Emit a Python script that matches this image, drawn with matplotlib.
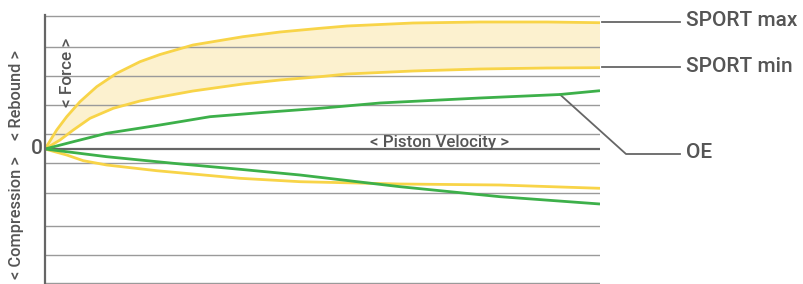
import matplotlib
matplotlib.use('Agg')
import matplotlib.pyplot as plt

plt.rcParams['font.family'] = ['Roboto', 'DejaVu Sans']

# piston velocity (arbitrary units) and force curves
max_x = [0, 11.7, 21.7, 35, 51.7, 71.7, 95, 115, 148, 198, 235, 275, 302, 368, 435, 502, 555]
max_y = [0, 19, 32.3, 47.3, 62.3, 75.7, 87.3, 94.5, 104, 112.3, 117, 120.7, 123, 126, 127, 127, 126.3]
min_x = [0, 15, 28.3, 45, 68.3, 95, 115, 148, 198, 235, 275, 302, 368, 435, 502, 555]
min_y = [0, 9, 19, 30.7, 40.7, 48, 52, 58, 65, 69, 72.3, 75, 78, 80, 81, 81.3]

oe_reb_x = [0, 28.3, 61.7, 115, 135, 165, 215, 275, 335, 435, 515, 555]
oe_reb_y = [0, 7.3, 15.7, 24, 27.3, 32.3, 36.3, 40.7, 46, 51, 54.5, 58.3]
oe_comp_x = [0, 61.7, 128.3, 195, 255, 355, 455, 555]
oe_comp_y = [0, -7.7, -14.3, -20.3, -26, -37.7, -47.7, -55]
sp_comp_x = [0, 21.7, 38.3, 61.7, 111.7, 195, 255, 355, 455, 555]
sp_comp_y = [0, -6, -11.7, -16, -21.7, -29.3, -32.7, -35, -36, -39.3]

grid_y = [133.3, 102.3, 73, 43.7, 14.7, -14.3, -43.7, -76.7, -106, -134.3]

yellow = '#F8D448'
fill = '#FCF1CF'
green = '#3DB04A'
dark = '#555555'

fig = plt.figure(figsize=(8.04, 2.84), dpi=100)
ax = fig.add_axes([45 / 804, 0, 555 / 804, 269 / 284])
ax.set_xlim(0, 555)
ax.set_ylim(-135, 134)
ax.axis('off')

for g in grid_y:
    ax.axhline(g, color='#9a9a9a', lw=1.0, zorder=1)
ax.axhline(0, color='#666666', lw=1.6, zorder=1)
ax.plot([0, 0], [-135, 134], color='#666666', lw=1.6, clip_on=False, zorder=5)

# shaded band between SPORT max and min
ax.fill(max_x + min_x[::-1], max_y + min_y[::-1], color=fill, lw=0, zorder=0.5)

kw = dict(lw=2, solid_joinstyle='round', solid_capstyle='butt')
ax.plot(max_x, max_y, color=yellow, zorder=3, **kw)
ax.plot(min_x, min_y, color=yellow, zorder=3, **kw)
ax.plot(sp_comp_x, sp_comp_y, color=yellow, zorder=3, **kw)
ax.plot(oe_reb_x, oe_reb_y, color=green, zorder=4, **kw)
ax.plot(oe_comp_x, oe_comp_y, color=green, zorder=4, **kw)

# callouts on the right
lab_kw = dict(fontsize=15, color=dark, va='center', ha='left', fontweight='medium')
ax.plot([557, 635], [127, 127], color='#666666', lw=1.3, clip_on=False)
ax.text(641, 128, 'SPORT max', **lab_kw)
ax.plot([557, 635], [82, 82], color='#666666', lw=1.3, clip_on=False)
ax.text(641, 83, 'SPORT min', **lab_kw)
ax.plot([515, 581, 635], [54.5, -5, -5], color='#666666', lw=1.3, clip_on=False)
ax.text(641, -4, 'OE', **lab_kw)

# axis captions
cap = dict(color=dark, ha='center', va='center', fontweight='medium')
ax.text(-8.5, 0, '0', fontsize=15, clip_on=False, **cap)
ax.text(-28, 54, '< Rebound >', fontsize=11.8, rotation=90, clip_on=False, **cap)
ax.text(-28, -69, '< Compression >', fontsize=11.8, rotation=90, clip_on=False, **cap)
ax.text(22, 77, '< Force >', fontsize=12.3, rotation=90, **cap)
ax.text(395, 7, '< Piston Velocity >', fontsize=12.2, **cap)

fig.savefig('out.png', dpi=100)
